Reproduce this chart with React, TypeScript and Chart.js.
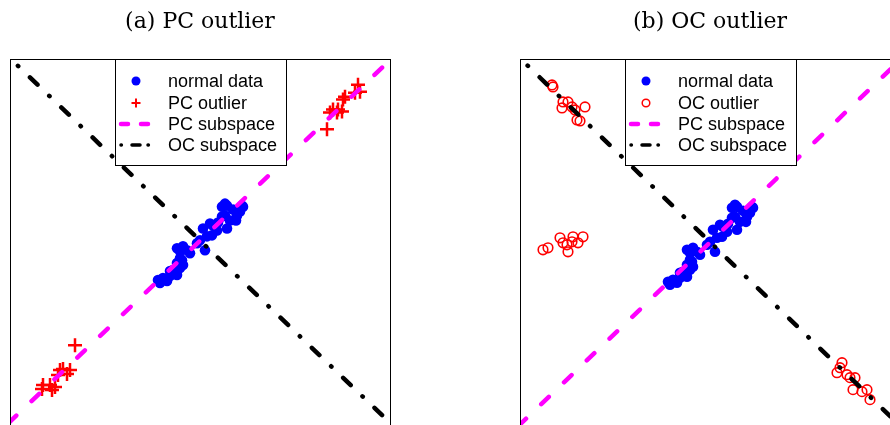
import { useEffect, useRef } from "react";
import { Chart, registerables } from "chart.js";

Chart.register(...registerables);

// ---- data (arbitrary units) ----
const normalX = [0.27, 0.22, 0.43, 0.40, 0.37, 0.25, 0.22, 0.30, 0.27, 0.13, 0.10, 0.03, 0.17, 0.12, 0.07, 0.00, -0.03, 0.05, -0.23, -0.17, -0.20, -0.13, -0.20, -0.23, -0.17, -0.20, -0.27, -0.23, -0.30, -0.37, -0.40, -0.33, -0.42, -0.30, 0.25, 0.42, 0.33, 0.18, -0.10, -0.18, 0.36];
const normalY = [0.42, 0.41, 0.41, 0.36, 0.32, 0.32, 0.31, 0.27, 0.19, 0.22, 0.24, 0.19, 0.17, 0.12, 0.11, 0.07, 0.04, -0.03, -0.01, 0.01, -0.04, -0.03, -0.11, -0.16, -0.18, -0.21, -0.23, -0.28, -0.24, -0.31, -0.36, -0.34, -0.33, -0.29, 0.44, 0.42, 0.38, 0.25, -0.06, -0.13, 0.27];

const pcOutX = [-1.25, -1.37, -1.30, -1.40, -1.33, -1.42, -1.57, -1.50, -1.45, -1.58, -1.48, 1.58, 1.60, 1.55, 1.45, 1.43, 1.38, 1.33, 1.42, 1.30, 1.37, 1.27];
const pcOutY = [-0.99, -1.23, -1.24, -1.24, -1.28, -1.29, -1.39, -1.39, -1.41, -1.43, -1.44, 1.64, 1.57, 1.56, 1.52, 1.49, 1.39, 1.39, 1.37, 1.36, 1.36, 1.19];

const ocOutX = [-1.58, -1.57, -1.47, -1.42, -1.48, -1.38, -1.25, -1.35, -1.33, -1.30, -1.67, -1.62, -1.50, -1.47, -1.43, -1.42, -1.37, -1.38, -1.32, -1.27, 1.32, 1.30, 1.27, 1.37, 1.40, 1.45, 1.43, 1.52, 1.57, 1.60];
const ocOutY = [1.64, 1.62, 1.47, 1.47, 1.41, 1.42, 1.42, 1.39, 1.29, 1.28, -0.01, 0.01, 0.11, 0.06, 0.04, -0.03, 0.12, 0.07, 0.06, 0.12, -1.14, -1.19, -1.24, -1.26, -1.29, -1.29, -1.41, -1.43, -1.41, -1.51];

const lineX = [-2.5, 2.5];
const pcLineY = [-2.335, 2.465];
const ocLineY = [2.488, -2.352];

const axisMin = -1.9;
const axisMax = 1.9;

const legendLabelsA = ["normal data", "PC outlier", "PC subspace", "OC subspace"];
const legendLabelsB = ["normal data", "OC outlier", "PC subspace", "OC subspace"];

const PC_DASH = [10.5, 21.05];
const OC_DASH = [10.5, 16.2, 0.5, 16.2];

function pts(xs: number[], ys: number[]) {
  return xs.map((x, i) => ({ x, y: ys[i] }));
}

type PanelProps = {
  title: string;
  kind: "pc" | "oc";
  left: number;
};

function Panel({ title, kind, left }: PanelProps) {
  const ref = useRef<HTMLCanvasElement | null>(null);
  useEffect(() => {
    const canvas = ref.current!;
    const labels = kind === "pc" ? legendLabelsA : legendLabelsB;
    const outlierDs =
      kind === "pc"
        ? {
            label: labels[1],
            data: pts(pcOutX, pcOutY),
            pointStyle: "cross" as const,
            pointRadius: 7,
            borderColor: "#ff0000",
            backgroundColor: "#ff0000",
            borderWidth: 2.5,
            showLine: false,
          }
        : {
            label: labels[1],
            data: pts(ocOutX, ocOutY),
            pointStyle: "circle" as const,
            pointRadius: 4.8,
            borderColor: "#ff0000",
            backgroundColor: "rgba(0,0,0,0)",
            borderWidth: 1.6,
            showLine: false,
          };

    const framePlugin = {
      id: "frame",
      afterDraw(chart: any) {
        const { ctx, chartArea } = chart;
        const a = chartArea;
        ctx.save();
        // border
        ctx.strokeStyle = "#000";
        ctx.lineWidth = 1;
        ctx.strokeRect(a.left + 0.5, a.top + 0.5, a.right - a.left, a.bottom - a.top);
        // title
        ctx.fillStyle = "#000";
        ctx.font = "22px 'DejaVu Serif'";
        ctx.textAlign = "center";
        ctx.textBaseline = "middle";
        ctx.fillText(title, (a.left + a.right) / 2, 22);
        // legend
        const lx = a.left + 105;
        const ly = a.top;
        const lw = 171;
        const lh = 106;
        ctx.fillStyle = "#fff";
        ctx.fillRect(lx, ly, lw, lh);
        ctx.strokeStyle = "#000";
        ctx.strokeRect(lx + 0.5, ly + 0.5, lw, lh);
        const symX = lx + 21;
        const textX = lx + 53;
        const rows = [ly + 22, ly + 44, ly + 65, ly + 86];
        // normal data
        ctx.fillStyle = "#0000ff";
        ctx.beginPath();
        ctx.arc(symX, rows[0], 4.5, 0, Math.PI * 2);
        ctx.fill();
        // outlier
        ctx.strokeStyle = "#ff0000";
        if (kind === "pc") {
          ctx.lineWidth = 2;
          ctx.beginPath();
          ctx.moveTo(symX - 4.5, rows[1]);
          ctx.lineTo(symX + 4.5, rows[1]);
          ctx.moveTo(symX, rows[1] - 4.5);
          ctx.lineTo(symX, rows[1] + 4.5);
          ctx.stroke();
        } else {
          ctx.lineWidth = 1.5;
          ctx.beginPath();
          ctx.arc(symX, rows[1], 3.8, 0, Math.PI * 2);
          ctx.stroke();
        }
        // PC subspace
        ctx.lineCap = "round";
        ctx.strokeStyle = "#ff00ff";
        ctx.lineWidth = 4.5;
        ctx.beginPath();
        ctx.moveTo(symX - 15, rows[2]);
        ctx.lineTo(symX - 8, rows[2]);
        ctx.moveTo(symX + 5, rows[2]);
        ctx.lineTo(symX + 12, rows[2]);
        ctx.stroke();
        // OC subspace
        ctx.strokeStyle = "#000";
        ctx.lineWidth = 3.5;
        ctx.beginPath();
        ctx.moveTo(symX - 15, rows[3]);
        ctx.lineTo(symX - 14.6, rows[3]);
        ctx.moveTo(symX - 4, rows[3]);
        ctx.lineTo(symX + 4, rows[3]);
        ctx.moveTo(symX + 12, rows[3]);
        ctx.lineTo(symX + 12.4, rows[3]);
        ctx.stroke();
        // texts
        ctx.fillStyle = "#000";
        ctx.font = "18px 'Liberation Sans'";
        ctx.textAlign = "left";
        ctx.textBaseline = "middle";
        labels.forEach((t, i) => ctx.fillText(t, textX, rows[i] + 1));
        ctx.restore();
      },
    };

    const chart = new Chart(canvas, {
      type: "scatter",
      data: {
        datasets: [
          {
            label: labels[2],
            data: pts(lineX, pcLineY),
            showLine: true,
            borderColor: "#ff00ff",
            backgroundColor: "#ff00ff",
            borderWidth: 4.5,
            borderDash: PC_DASH,
            borderDashOffset: 13.65,
            borderCapStyle: "round",
            pointRadius: 0,
            clip: 0,
          } as any,
          {
            label: labels[3],
            data: pts(lineX, ocLineY),
            showLine: true,
            borderColor: "#000000",
            backgroundColor: "#000000",
            borderWidth: 4.5,
            borderDash: OC_DASH,
            borderDashOffset: 19.45,
            borderCapStyle: "round",
            pointRadius: 0,
            clip: 0,
          } as any,
          outlierDs as any,
          {
            label: labels[0],
            data: pts(normalX, normalY),
            pointStyle: "circle",
            pointRadius: 5.3,
            backgroundColor: "#0000ff",
            borderColor: "#0000ff",
            borderWidth: 0,
            showLine: false,
          } as any,
        ],
      },
      options: {
        animation: false,
        responsive: false,
        maintainAspectRatio: false,
        events: [],
        layout: { padding: { left: 10, top: 59, right: 10, bottom: 6 } },
        plugins: {
          legend: { display: false },
          tooltip: { enabled: false },
          title: { display: false },
        },
        scales: {
          x: { type: "linear", min: axisMin, max: axisMax, display: false },
          y: { type: "linear", min: axisMin, max: axisMax, display: false },
        },
      },
      plugins: [framePlugin],
    });
    return () => chart.destroy();
  }, [title, kind]);

  return (
    <div style={{ position: "absolute", left, top: 0, width: 400, height: 445 }}>
      <canvas ref={ref} width={400} height={445} style={{ display: "block" }} />
    </div>
  );
}

export default function App() {
  return (
    <div
      style={{
        position: "fixed",
        left: 0,
        top: 0,
        width: 890,
        height: 425,
        overflow: "hidden",
        background: "#fff",
      }}
    >
      <Panel title="(a) PC outlier" kind="pc" left={0} />
      <Panel title="(b) OC outlier" kind="oc" left={510} />
    </div>
  );
}
